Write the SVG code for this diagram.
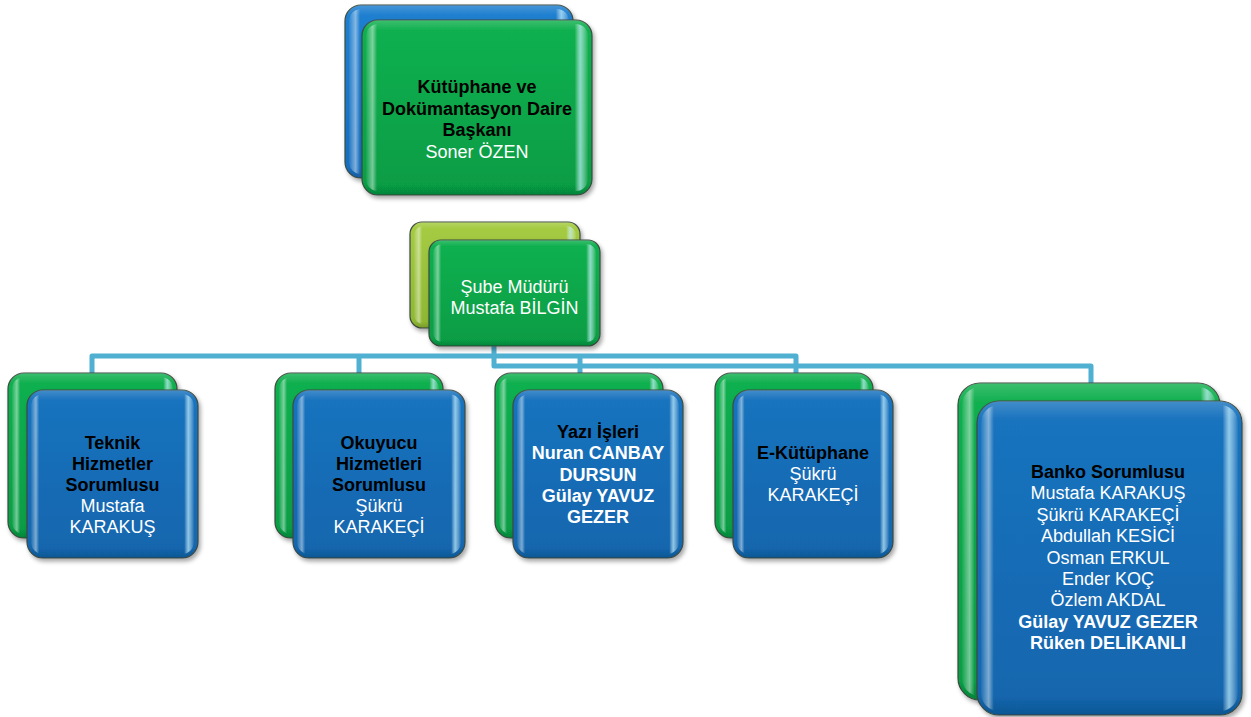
<svg xmlns="http://www.w3.org/2000/svg" width="1251" height="717" viewBox="0 0 1251 717">
<defs>
<filter id="sh" x="-10%" y="-10%" width="125%" height="125%">
<feDropShadow dx="2" dy="3" stdDeviation="2" flood-color="#000" flood-opacity="0.35"/>
</filter>
<linearGradient id="gG" x1="0" y1="0" x2="0" y2="1">
<stop offset="0" stop-color="#12b150"/><stop offset="1" stop-color="#069c44"/>
</linearGradient>
<linearGradient id="gB" x1="0" y1="0" x2="0" y2="1">
<stop offset="0" stop-color="#1a74bf"/><stop offset="1" stop-color="#1265ad"/>
</linearGradient>
<linearGradient id="gL" x1="0" y1="0" x2="0" y2="1">
<stop offset="0" stop-color="#a6cc44"/><stop offset="1" stop-color="#8db632"/>
</linearGradient>
<linearGradient id="gBT" x1="0" y1="0" x2="0" y2="1">
<stop offset="0" stop-color="#2080d0"/><stop offset="1" stop-color="#166dbd"/>
</linearGradient>
<linearGradient id="hl" x1="0" y1="0" x2="1" y2="0">
<stop offset="0" stop-color="#ffffff" stop-opacity="0.05"/>
<stop offset="0.03" stop-color="#ffffff" stop-opacity="0.45"/>
<stop offset="0.05" stop-color="#ffffff" stop-opacity="0"/>
<stop offset="0.94" stop-color="#ffffff" stop-opacity="0"/>
<stop offset="0.965" stop-color="#bff0ff" stop-opacity="0.7"/>
<stop offset="1" stop-color="#ffffff" stop-opacity="0.05"/>
</linearGradient>
<linearGradient id="tb" x1="0" y1="0" x2="0" y2="1">
<stop offset="0" stop-color="#ffffff" stop-opacity="0.18"/>
<stop offset="0.06" stop-color="#ffffff" stop-opacity="0"/>
<stop offset="0.94" stop-color="#000000" stop-opacity="0"/>
<stop offset="1" stop-color="#000000" stop-opacity="0.15"/>
</linearGradient>
</defs>
<style>
.box{stroke:#3d4a40;stroke-width:1.2}
.g{fill:url(#gG)}
.b{fill:url(#gB)}
.l{fill:url(#gL)}
.bt{fill:url(#gBT)}
.hl{fill:url(#hl)}
.tb{fill:url(#tb)}
.sh{filter:url(#sh)}
text{font-family:"Liberation Sans",Arial,sans-serif;font-size:18px;text-anchor:middle}
.t{font-weight:bold;fill:#000}
.w{fill:#fff}
.wb{fill:#fff;font-weight:bold}
.con{fill:none;stroke:#4fb0d2;stroke-width:5;stroke-linejoin:round}
</style>

<g id="connectors">
<path class="con" d="M92,373 V356 H796 V373"/>
<path class="con" d="M359,356 V373"/>
<path class="con" d="M580,356 V373"/>
<path class="con" d="M494,346 V366 H1091 V383"/>
</g>

<g id="node-daire-baskani">
<g class="sh">
<rect class="box bt" x="345" y="5" width="228" height="173" rx="16"/>
<rect class="tb" x="345" y="5" width="228" height="173" rx="16"/>
<rect class="hl" x="349" y="9" width="220" height="165" rx="12"/>
</g>
<g class="sh">
<rect class="box g" x="362" y="20" width="230" height="175" rx="16"/>
<rect class="tb" x="362" y="20" width="230" height="175" rx="16"/>
<rect class="hl" x="366" y="24" width="222" height="167" rx="12"/>
</g>
<text x="477" y="93"><tspan class="t" x="477">Kütüphane ve</tspan><tspan class="t" x="477" dy="21.5">Dokümantasyon Daire</tspan><tspan class="t" x="477" dy="21.5">Başkanı</tspan><tspan class="w" x="477" dy="21.5">Soner ÖZEN</tspan></text>
</g>

<g id="node-sube-muduru">
<g class="sh">
<rect class="box l" x="410" y="222" width="170" height="106" rx="12"/>
<rect class="tb" x="410" y="222" width="170" height="106" rx="12"/>
<rect class="hl" x="414" y="226" width="162" height="98" rx="9"/>
</g>
<g class="sh">
<rect class="box g" x="429" y="240" width="171" height="106" rx="12"/>
<rect class="tb" x="429" y="240" width="171" height="106" rx="12"/>
<rect class="hl" x="433" y="244" width="163" height="98" rx="9"/>
</g>
<text class="w" x="514.5" y="292.5">Şube Müdürü</text>
<text class="w" x="514.5" y="313.5">Mustafa BİLGİN</text>
</g>

<g id="node-teknik">
<g class="sh">
<rect class="box g" x="8" y="373" width="169" height="165" rx="16"/>
<rect class="tb" x="8" y="373" width="169" height="165" rx="16"/>
<rect class="hl" x="12" y="377" width="161" height="157" rx="12"/>
</g>
<g class="sh">
<rect class="box b" x="27" y="390" width="171" height="168" rx="16"/>
<rect class="tb" x="27" y="390" width="171" height="168" rx="16"/>
<rect class="hl" x="31" y="394" width="163" height="160" rx="12"/>
</g>
<text x="112.5" y="449"><tspan class="t" x="112.5">Teknik</tspan><tspan class="t" x="112.5" dy="21">Hizmetler</tspan><tspan class="t" x="112.5" dy="21">Sorumlusu</tspan><tspan class="w" x="112.5" dy="21">Mustafa</tspan><tspan class="w" x="112.5" dy="21">KARAKUŞ</tspan></text>
</g>

<g id="node-okuyucu">
<g class="sh">
<rect class="box g" x="275" y="373" width="168" height="165" rx="16"/>
<rect class="tb" x="275" y="373" width="168" height="165" rx="16"/>
<rect class="hl" x="279" y="377" width="160" height="157" rx="12"/>
</g>
<g class="sh">
<rect class="box b" x="293" y="390" width="172" height="168" rx="16"/>
<rect class="tb" x="293" y="390" width="172" height="168" rx="16"/>
<rect class="hl" x="297" y="394" width="164" height="160" rx="12"/>
</g>
<text x="379" y="449"><tspan class="t" x="379">Okuyucu</tspan><tspan class="t" x="379" dy="21">Hizmetleri</tspan><tspan class="t" x="379" dy="21">Sorumlusu</tspan><tspan class="w" x="379" dy="21">Şükrü</tspan><tspan class="w" x="379" dy="21">KARAKEÇİ</tspan></text>
</g>

<g id="node-yazi-isleri">
<g class="sh">
<rect class="box g" x="495" y="373" width="168" height="165" rx="16"/>
<rect class="tb" x="495" y="373" width="168" height="165" rx="16"/>
<rect class="hl" x="499" y="377" width="160" height="157" rx="12"/>
</g>
<g class="sh">
<rect class="box b" x="513" y="390" width="170" height="168" rx="16"/>
<rect class="tb" x="513" y="390" width="170" height="168" rx="16"/>
<rect class="hl" x="517" y="394" width="162" height="160" rx="12"/>
</g>
<text x="598" y="438"><tspan class="t" x="598">Yazı İşleri</tspan><tspan class="wb" x="598" dy="21.3">Nuran CANBAY</tspan><tspan class="wb" x="598" dy="21.3">DURSUN</tspan><tspan class="wb" x="598" dy="21.3">Gülay YAVUZ</tspan><tspan class="wb" x="598" dy="21.3">GEZER</tspan></text>
</g>

<g id="node-e-kutuphane">
<g class="sh">
<rect class="box g" x="715" y="373" width="158" height="165" rx="16"/>
<rect class="tb" x="715" y="373" width="158" height="165" rx="16"/>
<rect class="hl" x="719" y="377" width="150" height="157" rx="12"/>
</g>
<g class="sh">
<rect class="box b" x="733" y="390" width="160" height="168" rx="16"/>
<rect class="tb" x="733" y="390" width="160" height="168" rx="16"/>
<rect class="hl" x="737" y="394" width="152" height="160" rx="12"/>
</g>
<text x="813" y="459"><tspan class="t" x="813">E-Kütüphane</tspan><tspan class="w" x="813" dy="21">Şükrü</tspan><tspan class="w" x="813" dy="21">KARAKEÇİ</tspan></text>
</g>

<g id="node-banko">
<g class="sh">
<rect class="box g" x="958" y="383" width="262" height="317" rx="22"/>
<rect class="tb" x="958" y="383" width="262" height="317" rx="22"/>
<rect class="hl" x="962" y="387" width="254" height="309" rx="18"/>
</g>
<g class="sh">
<rect class="box b" x="977" y="401" width="265" height="314" rx="22"/>
<rect class="tb" x="977" y="401" width="265" height="314" rx="22"/>
<rect class="hl" x="981" y="405" width="257" height="306" rx="18"/>
</g>
<text x="1108" y="478"><tspan class="t" x="1108">Banko Sorumlusu</tspan><tspan class="w" x="1108" dy="21.4">Mustafa KARAKUŞ</tspan><tspan class="w" x="1108" dy="21.4">Şükrü KARAKEÇİ</tspan><tspan class="w" x="1108" dy="21.4">Abdullah KESİCİ</tspan><tspan class="w" x="1108" dy="21.4">Osman ERKUL</tspan><tspan class="w" x="1108" dy="21.4">Ender KOÇ</tspan><tspan class="w" x="1108" dy="21.4">Özlem AKDAL</tspan><tspan class="wb" x="1108" dy="21.4">Gülay YAVUZ GEZER</tspan><tspan class="wb" x="1108" dy="21.4">Rüken DELİKANLI</tspan></text>
</g>
</svg>
